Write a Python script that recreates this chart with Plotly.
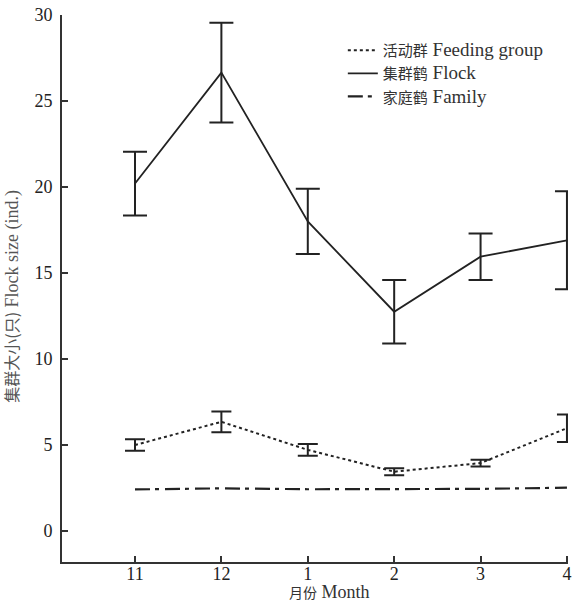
import plotly.graph_objects as go

months = ["11", "12", "1", "2", "3", "4"]
feeding = [5.0, 6.35, 4.72, 3.45, 3.95, 5.98]
feeding_err = [0.33, 0.6, 0.34, 0.2, 0.2, 0.8]
flock = [20.2, 26.65, 18.0, 12.75, 15.95, 16.9]
flock_err = [1.85, 2.9, 1.9, 1.85, 1.35, 2.85]
family = [2.42, 2.48, 2.43, 2.44, 2.45, 2.52]
y_ticks = [0, 5, 10, 15, 20, 25, 30]

xs = list(range(len(months)))
LATIN = "Liberation Serif, Times New Roman, serif"
CJK = "Noto Sans CJK SC"


def mixed(cjk, latin, cjk_size, latin_size):
    return (f'<span style="font-family:{CJK};font-size:{cjk_size}px">{cjk}</span>'
            f'<span style="font-size:{latin_size}px"> {latin}</span>')


fig = go.Figure()
fig.add_trace(go.Scatter(
    x=xs, y=feeding, mode="lines", name=mixed("活动群", "Feeding group", 15, 19),
    line=dict(color="#222", width=2, dash="3px,3px"),
    error_y=dict(type="data", array=feeding_err, color="#222", thickness=2, width=10),
))
fig.add_trace(go.Scatter(
    x=xs, y=flock, mode="lines", name=mixed("集群鹤", "Flock", 15, 19),
    line=dict(color="#222", width=1.8),
    error_y=dict(type="data", array=flock_err, color="#222", thickness=2, width=12),
))
fig.add_trace(go.Scatter(
    x=xs, y=family, mode="lines", name=mixed("家庭鹤", "Family", 15, 19),
    line=dict(color="#222", width=2.2, dash="15px,5px,4px,6px"),
))

fig.update_layout(
    width=573, height=606,
    margin=dict(l=62, r=5, t=15, b=44),
    paper_bgcolor="white", plot_bgcolor="white",
    font=dict(family=LATIN, color="#222", size=16),
    showlegend=True,
    legend=dict(
        x=0.555, y=0.966, xanchor="left", yanchor="top",
        bgcolor="rgba(0,0,0,0)", font=dict(size=15.5, color="#333", family=LATIN),
        itemwidth=30, tracegroupgap=0,
    ),
    xaxis=dict(
        range=[-0.845, 5.012], tickmode="array", tickvals=xs, ticktext=months,
        showline=True, linecolor="#333", linewidth=2, showgrid=False, zeroline=False,
        ticks="inside", ticklen=6, tickwidth=2, tickcolor="#333",
        tickfont=dict(size=18, color="#222"), ticklabelstandoff=-6, automargin=False,
    ),
    yaxis=dict(
        range=[-1.8, 30], tickmode="array", tickvals=y_ticks,
        showline=True, linecolor="#333", linewidth=2, showgrid=False, zeroline=False,
        ticks="inside", ticklen=6, tickwidth=2, tickcolor="#333",
        tickfont=dict(size=18, color="#222"), ticklabelstandoff=4, automargin=False,
    ),
    annotations=[
        dict(text=mixed("月份", "Month", 14, 18), xref="paper", yref="paper",
             x=0.529, y=-0.054, xanchor="center", yanchor="middle", showarrow=False,
             font=dict(color="#333")),
        dict(text=mixed("集群大小(只)", "Flock size (ind.)", 16, 18), xref="paper", yref="paper",
             x=-0.073, y=0.485, xanchor="right", yanchor="middle", textangle=-90,
             showarrow=False, font=dict(color="#555")),
    ],
)

fig.write_html("out.html", config={"displayModeBar": False},
               post_script="document.body.style.margin='0px';")
